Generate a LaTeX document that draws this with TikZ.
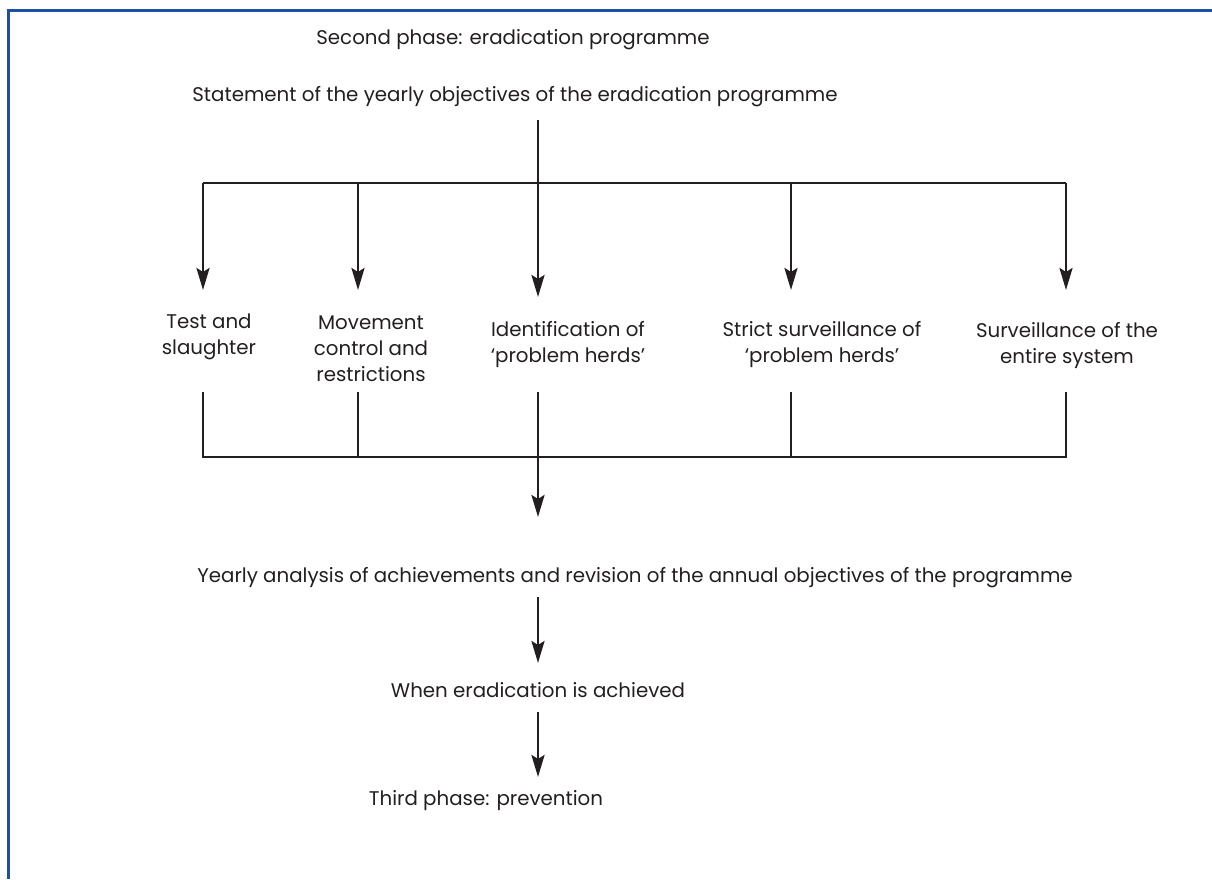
\documentclass[tikz,border=0pt]{standalone}
\usepackage{fontspec}
\setmainfont{Poppins}
\usetikzlibrary{arrows.meta}
\definecolor{ink}{HTML}{231F20}
\definecolor{frameblue}{HTML}{1F4FA0}
\begin{document}
\begin{tikzpicture}[x=1pt,y=-1pt,
  lbl/.style={text=ink,font=\fontsize{19.8}{26}\selectfont,align=center,inner sep=0pt},
  bus/.style={draw=ink,line width=2.9pt},
  arr/.style={bus,-{Stealth[length=22pt,width=13pt,inset=4pt]}},
]
\useasboundingbox (0,0) rectangle (1212,879);
% frame (left and top edges)
\draw[frameblue,line width=3pt] (8.7,879) -- (8.7,10.3) -- (1212,10.3);

% headings
\node[lbl] (phase2) at (513,40) {Second phase: eradication programme};
\node[lbl] (objectives) at (515,97) {Statement of the yearly objectives of the eradication programme};

% measures
\node[lbl] (test) at (209,337) {Test and\\slaughter};
\node[lbl] (move) at (371,349) {Movement\\control and\\restrictions};
\node[lbl] (ident) at (568,345) {Identification of\\`problem herds'};
\node[lbl] (strict) at (822,345) {Strict surveillance of\\`problem herds'};
\node[lbl] (survey) at (1067,345) {Surveillance of the\\entire system};

% results
\node[lbl] (yearly) at (635,578) {Yearly analysis of achievements and revision of the annual objectives of the programme};
\node[lbl] (achieved) at (538,690) {When eradication is achieved};
\node[lbl] (phase3) at (486,801) {Third phase: prevention};

% distribution bus
\coordinate (src) at (538,120);
\coordinate (tb1) at (203,183);
\coordinate (tb2) at (358,183);
\coordinate (tb3) at (538,183);
\coordinate (tb4) at (791,183);
\coordinate (tb5) at (1066,183);
\coordinate (tip1) at (203,290);
\coordinate (tip2) at (358,290);
\coordinate (tip3) at (538,297);
\coordinate (tip4) at (791,290);
\coordinate (tip5) at (1066,290);
\draw[bus] (tb1) -- (tb5);
\draw[arr] (src) -- (tip3);
\draw[arr] (tb1) -- (tip1);
\draw[arr] (tb2) -- (tip2);
\draw[arr] (tb4) -- (tip4);
\draw[arr] (tb5) -- (tip5);

% collection bus
\coordinate (up1) at (203,392);
\coordinate (up2) at (358,392);
\coordinate (up3) at (538,392);
\coordinate (up4) at (791,392);
\coordinate (up5) at (1066,392);
\coordinate (bb1) at (203,457);
\coordinate (bb2) at (358,457);
\coordinate (bb4) at (791,457);
\coordinate (bb5) at (1066,457);
\coordinate (sink) at (538,517);
\draw[bus,line join=miter] (up1) -- (bb1) -- (bb5) -- (up5);
\draw[bus] (up2) -- (bb2);
\draw[bus] (up4) -- (bb4);
\draw[arr] (up3) -- (sink);

% final sequence
\coordinate (y1) at (538,597);
\coordinate (y2) at (538,663);
\coordinate (a1) at (538,712);
\coordinate (a2) at (538,777);
\draw[arr] (y1) -- (y2);
\draw[arr] (a1) -- (a2);
\end{tikzpicture}
\end{document}
